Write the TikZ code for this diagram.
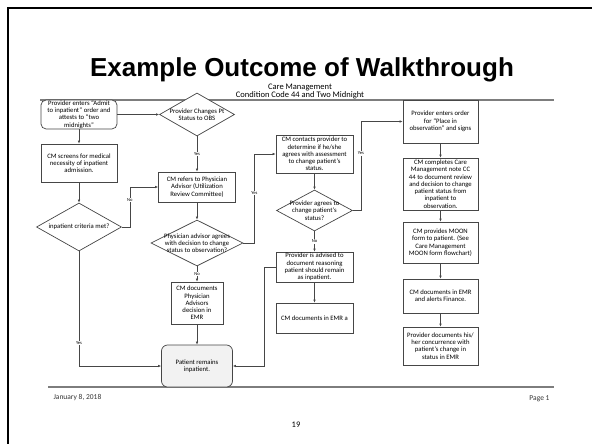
\documentclass[tikz,border=0pt]{standalone}
\usepackage{fontspec}
\setmainfont{Carlito}
\newfontfamily\titlefont{Liberation Sans}
\usetikzlibrary{arrows.meta,shapes.geometric,positioning}
\definecolor{edge}{RGB}{70,70,70}
\definecolor{rule}{RGB}{125,125,125}
\definecolor{paper}{RGB}{242,242,242}
\tikzset{
  >={Latex[length=3pt,width=2.6pt]},
  stepbox/.style={draw=edge,fill=white,line width=0.7pt,align=center,inner sep=0.5pt,
    font=\fontsize{6.7}{7.3}\selectfont},
  endbox/.style={stepbox,rounded corners=5pt,fill=#1},
  endbox/.default=white,
  query/.style={diamond,draw=edge,fill=white,line width=0.7pt,inner sep=0pt},
  qtext/.style={font=\fontsize{6.7}{7.3}\selectfont,align=center,inner sep=0pt},
  flow/.style={->,draw=edge,line width=0.6pt},
  tag/.style={fill=white,inner sep=0.6pt,font=\fontsize{4.6}{5}\selectfont},
  footer/.style={font=\fontsize{7.5}{9}\selectfont,text=black!80},
}
\begin{document}
\begin{tikzpicture}[x=1pt,y=-1pt]
  \useasboundingbox (0,0) rectangle (592,444);
  % slide frame and rules
  \draw[line width=2pt] (8,444) -- (8,8) -- (592,8);
  \draw[rule,line width=2.5pt] (40,100) -- (554,100);
  \draw[rule,line width=2.5pt] (48,387) -- (554,387);

  % heading
  \node[font=\titlefont\bfseries\fontsize{26}{30}\selectfont,anchor=base] (title) at (302,77) {Example Outcome of Walkthrough};
  \node[font=\fontsize{8.5}{10}\selectfont] (unit) at (300,87) {Care Management};
  \node[font=\fontsize{8.5}{10}\selectfont] (cond) at (300,95.5) {Condition Code 44 and Two Midnight};

  % left column
  \node[endbox,minimum width=76pt,minimum height=27pt] (admit) at (79,114.5) {Provider enters ``Admit\\to inpatient'' order and\\attests to ``two\\midnights''};
  \node[stepbox,minimum width=76pt,minimum height=38pt] (screen) at (79,163) {CM screens for medical\\necessity of inpatient\\admission.};
  \node[query,minimum width=85pt,minimum height=48pt,label={[qtext]center:inpatient criteria met?}] (crit) at (79,227) {};

  % second column
  \node[query,minimum width=75pt,minimum height=43pt,label={[qtext]center:Provider Changes Pt\\Status to OBS}] (chg) at (197,114.5) {};
  \node[stepbox,minimum width=77pt,minimum height=30pt] (refer) at (197,187) {CM refers to Physician\\Advisor (Utilization\\Review Committee)};
  \node[query,minimum width=92pt,minimum height=46pt,label={[qtext]center:Physician advisor agrees\\with decision to change\\status to observation?}] (agree) at (197,243) {};
  \node[stepbox,minimum width=52pt,minimum height=42pt] (pado) at (197,303) {CM documents\\Physician\\Advisors\\decision in\\EMR};
  \node[endbox=paper,minimum width=71pt,minimum height=42pt,rounded corners=6pt] (remain) at (197,366) {Patient remains\\inpatient.};

  % third column
  \node[stepbox,minimum width=77pt,minimum height=38pt] (contact) at (314.5,154) {CM contacts provider to\\determine if he/she\\agrees with assessment\\to change patient's\\status.};
  \node[query,minimum width=76pt,minimum height=41pt,label={[qtext]center:Provider agrees to\\change patient's\\status?}] (pagree) at (314.5,210.5) {};
  \node[stepbox,minimum width=77pt,minimum height=30pt] (advise) at (314.5,267) {Provider is advised to\\document reasoning\\patient should remain\\as inpatient.};
  \node[stepbox,minimum width=77pt,minimum height=30pt] (emra) at (314.5,318) {CM documents in EMR a};

  % right column
  \node[stepbox,minimum width=75pt,minimum height=43pt] (order) at (440.5,121.5) {Provider enters order\\for ``Place in\\observation'' and signs};
  \node[stepbox,minimum width=75pt,minimum height=52pt] (note) at (440.5,184) {CM completes Care\\Management note CC\\44 to document review\\and decision to change\\patient status from\\inpatient to\\observation.};
  \node[stepbox,minimum width=75pt,minimum height=41pt] (moon) at (440.5,242.5) {CM provides MOON\\form to patient. (See\\Care Management\\MOON form flowchart)};
  \node[stepbox,minimum width=75pt,minimum height=34pt] (alert) at (440.5,296) {CM documents in EMR\\and alerts Finance.};
  \node[stepbox,minimum width=75pt,minimum height=38pt] (concur) at (440.5,346) {Provider documents his/\\her concurrence with\\patient's change in\\status in EMR};

  % connectors
  \draw[flow] (admit.east) -- (chg.west);
  \draw[flow] (admit) -- (screen);
  \draw[flow] (screen) -- (crit);
  \draw[flow] (crit.east) -- ++(8,0) |- (refer.west) node[tag,pos=0.34] {No};
  \draw[flow] (crit.south) |- (remain.west) node[tag,pos=0.4] {Yes};
  \draw[flow] (chg) -- node[tag] {Yes} (refer);
  \draw[flow] (refer) -- (agree);
  \draw[flow] (agree.east) -- ++(11,0) |- (contact.west) node[tag,pos=0.28] {Yes};
  \draw[flow] (agree) -- node[tag] {No} (pado);
  \draw[flow] (pado) -- (remain);
  \draw[flow] (contact) -- (pagree);
  \draw[flow] (pagree.east) -- ++(8,0) |- (order.west) node[tag,pos=0.32] {Yes};
  \draw[flow] (pagree) -- node[tag] {No} (advise);
  \draw[flow] (advise) -- (emra);
  \draw[flow] (advise.west) -- ++(-11,0) |- (remain.east);
  \foreach \a/\b in {order/note,note/moon,moon/alert,alert/concur}
    \draw[flow] (\a) -- (\b);

  % footer
  \node[footer,anchor=west] (date) at (50,398) {January 8, 2018};
  \node[footer,anchor=east] (page) at (553,399) {Page 1};
  \node[font=\fontsize{8.5}{10}\selectfont] (num) at (296,425) {19};
\end{tikzpicture}
\end{document}
